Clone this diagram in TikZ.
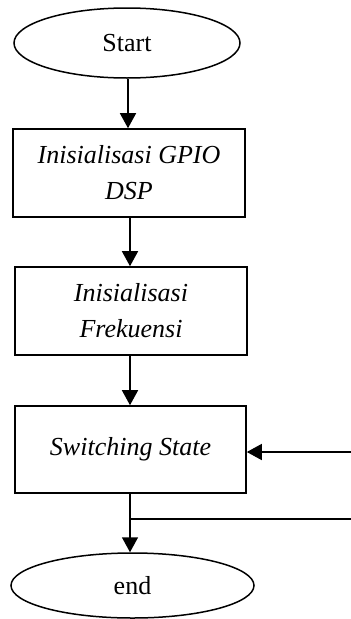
\documentclass[tikz,border=0pt]{standalone}
\usepackage{fontspec}
\setmainfont{Liberation Serif}
\usetikzlibrary{shapes.geometric,arrows.meta}

\begin{document}
\begin{tikzpicture}[x=1pt,y=-1pt,
  every node/.style={font=\fontsize{26}{36}\selectfont},
  terminal/.style={draw,line width=1.5pt,ellipse,inner sep=0pt},
  process/.style={draw,line width=1.6pt,rectangle,inner sep=0pt,align=center,
    font=\fontsize{26}{36}\selectfont\itshape},
  flow/.style={line width=1.5pt,-{Triangle[width=16pt,length=15pt]}},
  wire/.style={line width=1.5pt}]
\useasboundingbox (0,0) rectangle (351,619);

\node[terminal,minimum width=226pt,minimum height=70pt] (start) at (127,43) {Start};
\node[process,minimum width=232pt,minimum height=88pt] (gpio) at (129,173)
  {Inisialisasi GPIO\\DSP};
\node[process,minimum width=232pt,minimum height=88pt] (freq) at (131,311)
  {Inisialisasi\\Frekuensi};
\node[process,minimum width=231pt,minimum height=87pt] (sw) at (130.5,449.5)
  {Switching State};
\node[terminal,minimum width=243pt,minimum height=65pt] (end) at (132.5,585.5) {end};

\coordinate (fbin) at (351,452);
\coordinate (fbout) at (351,519);
\coordinate (c1) at (128,0);
\coordinate (c2) at (130,0);

\draw[flow] (c1 |- start.south) -- (c1 |- gpio.north);
\draw[flow] (c2 |- gpio.south) -- (c2 |- freq.north);
\draw[flow] (c2 |- freq.south) -- (c2 |- sw.north);
\draw[flow] (c2 |- sw.south) -- (c2 |- end.north);
\coordinate (junc) at (c2 |- fbout);
\draw[wire] (junc) -- (fbout);
\draw[flow] (fbin) -- (sw.east |- fbin);
\end{tikzpicture}
\end{document}
